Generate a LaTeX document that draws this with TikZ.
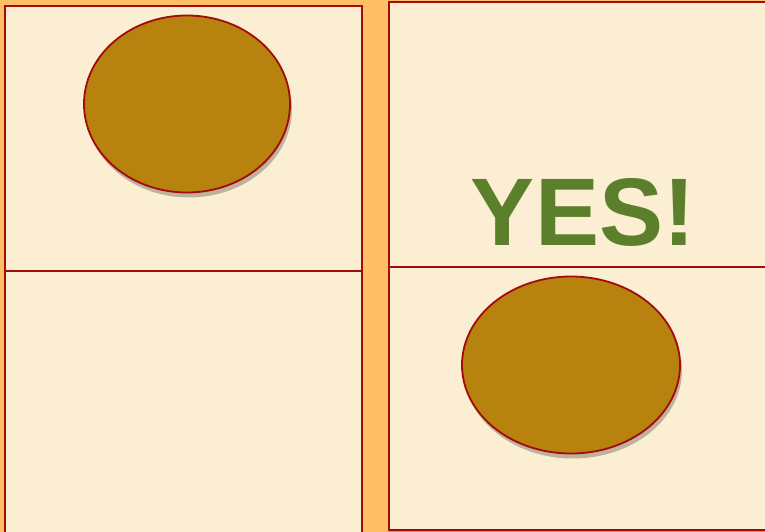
\documentclass[tikz,border=0pt]{standalone}
\usepackage{fontspec}
\setmainfont{Liberation Sans}
\usetikzlibrary{shadows,shapes.geometric}
\definecolor{bgorange}{HTML}{FFBF66}
\definecolor{panelfill}{HTML}{FCEED3}
\definecolor{borderred}{HTML}{A30B0B}
\definecolor{blobfill}{HTML}{B8820E}
\definecolor{yesgreen}{HTML}{5B7F2A}
\tikzset{
  panel/.style={draw=borderred, line width=2.2pt, fill=panelfill,
    drop shadow={shadow xshift=0pt, shadow yshift=-4pt, opacity=0.2, fill=black}},
  blob/.style={ellipse, draw=borderred, line width=1.8pt, fill=blobfill,
    drop shadow={shadow xshift=2pt, shadow yshift=-5pt, opacity=0.25, fill=black}},
}
\begin{document}
\begin{tikzpicture}[x=1pt,y=-1pt]
\useasboundingbox (0,0) rectangle (765,532);
\fill[bgorange] (0,0) rectangle (765,532);
% left panels
\node[panel, minimum width=357pt, minimum height=265pt, inner sep=0pt] (ltop) at (183.5,138.5) {};
\node[panel, minimum width=357pt, minimum height=270pt, inner sep=0pt] (lbot) at (183.5,406) {};
% right panels
\node[panel, minimum width=380pt, minimum height=265pt, inner sep=0pt] (rtop) at (579,134.5) {};
\node[panel, minimum width=380pt, minimum height=263pt, inner sep=0pt] (rbot) at (579,398.5) {};
% blobs
\node[blob, minimum width=206pt, minimum height=177pt, inner sep=0pt] (b1) at (187,104) {};
\node[blob, minimum width=218pt, minimum height=177pt, inner sep=0pt] (b2) at (571,365) {};
% text
\node[text=yesgreen, font=\fontsize{96}{96}\selectfont\bfseries, inner sep=0pt, anchor=base] (yes) at (583,245) {YES!};
\end{tikzpicture}
\end{document}
